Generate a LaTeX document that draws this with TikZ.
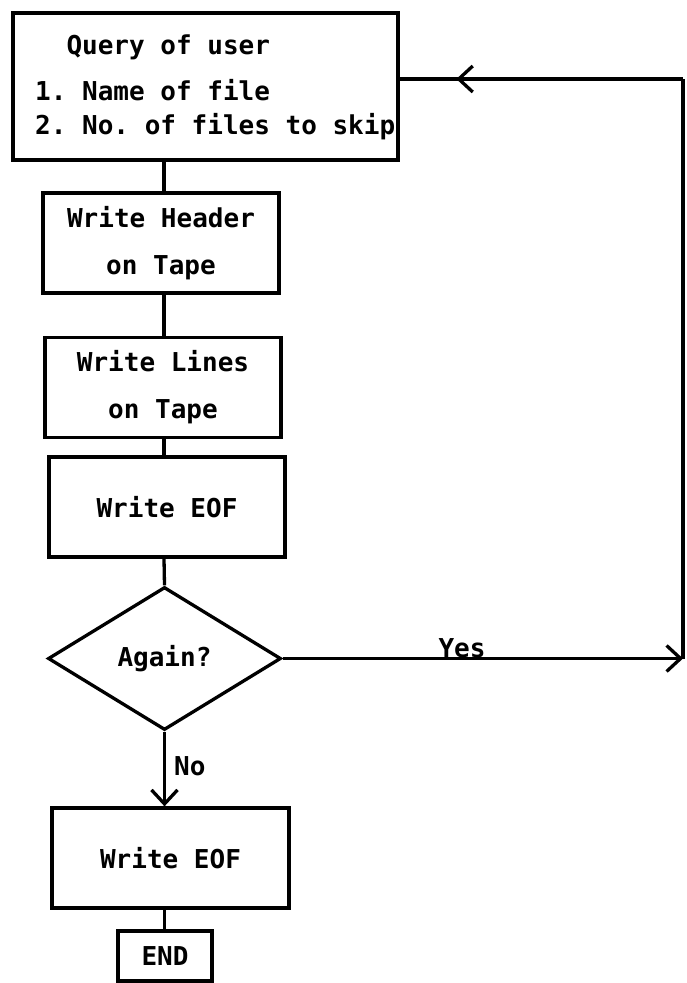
\documentclass[tikz,border=0pt]{standalone}
\usepackage{fontspec}
\setmonofont{DejaVu Sans Mono}
\usetikzlibrary{shapes.geometric}
\usetikzlibrary{arrows.meta}
\usetikzlibrary{decorations.markings}

\tikzset{
	flowtext/.style = {font=\ttfamily\bfseries\fontsize{26}{47}\selectfont, inner sep=0pt},
	block/.style = {flowtext, draw, line width=3.3pt, rectangle, align=center, minimum width=236pt, minimum height=100pt},
	choice/.style = {flowtext, draw, line width=3.3pt, diamond, minimum width=233pt, minimum height=143pt},
	wire/.style = {line width=3.3pt},
	barb/.style = {wire, -{Straight Barb[length=14pt,width=26pt,line width=3.3pt]}},
}

\begin{document}
\begin{tikzpicture}[x=1pt, y=-1pt]
		\useasboundingbox (0,0) rectangle (686,983);
		\node[block, minimum width=385pt, minimum height=147pt] (query) at (205.5,86.5) {};
		\node[flowtext, anchor=west, align=left, font=\ttfamily\bfseries\fontsize{26}{34}\selectfont] (querytext) at (35,87) {\phantom{12}Query of user\\[12pt]1. Name of file\\2. No. of files to skip};
		\node[block] (header) at (161,243) {Write Header\\ on Tape};
		\node[block] (lines) at (163,387.5) {Write Lines\\ on Tape};
		\node[block] (eofa) at (167,507) {Write EOF};
		\node[choice] (again) at (164.5,658.5) {Again?};
		\node[block, minimum width=237pt] (eofb) at (170.5,858) {Write EOF};
		\node[block, minimum width=94pt, minimum height=50pt] (end) at (165,956) {END};
		\coordinate (spine) at (164,0);
		\coordinate (back) at (683,79);
		\draw[wire] (spine |- query.south) -- (spine |- header.north);
		\draw[wire] (spine |- header.south) -- (spine |- lines.north);
		\draw[wire] (spine |- lines.south) -- (spine |- eofa.north);
		\draw[wire] (spine |- eofa.south) -- (again.north);
		\draw[barb] (again.south) -- (again.south |- eofb.north);
		\node[flowtext, anchor=west] (no) at (174,766) {No};
		\draw[wire] (again.south |- eofb.south) -- (again.south |- end.north);
		\draw[barb] (again.east) -- (again.east -| back);
		\node[flowtext] (yes) at (462,648) {Yes};
		\draw[wire] (again.east -| back) -- (back);
		\draw[wire, decoration={markings, mark=at position 0.8 with {\arrow{Straight Barb[length=14pt,width=26pt,line width=3.3pt]}}}, postaction={decorate}] (back) -- (back -| query.east);
	\end{tikzpicture}
\end{document}
